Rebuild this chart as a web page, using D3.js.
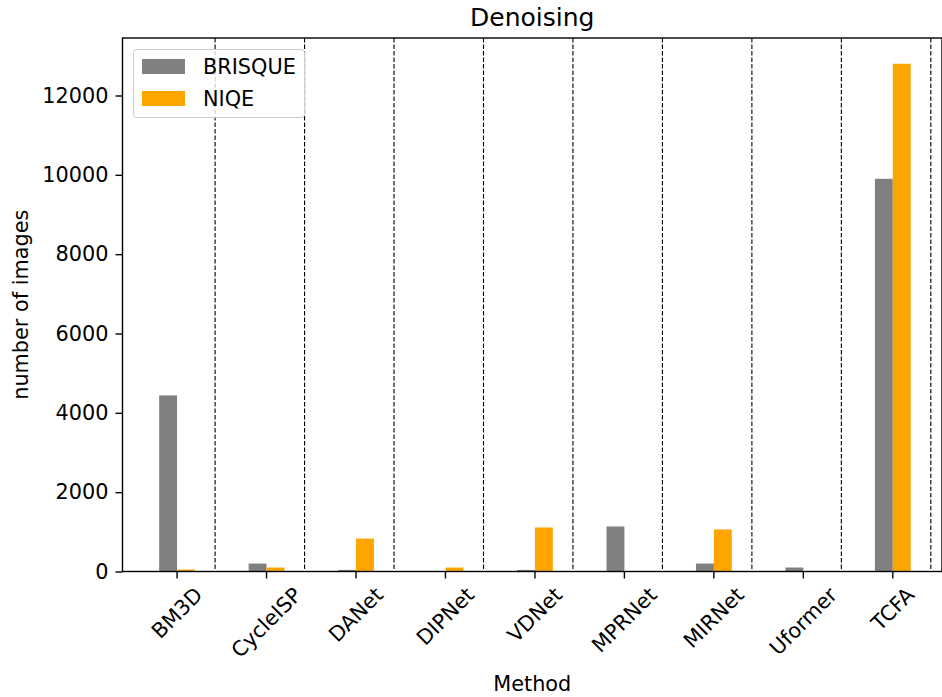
<!DOCTYPE html>
<html><head><meta charset="utf-8">
<script src="https://cdn.jsdelivr.net/npm/d3@7"></script>
<style>body{margin:0;background:#fff}svg{display:block}text{font-family:"DejaVu Sans",sans-serif;fill:#000}</style>
</head><body><svg id="c" width="942" height="697"></svg>
<script>
const categories = ["BM3D","CycleISP","DANet","DIPNet","VDNet","MPRNet","MIRNet","Uformer","TCFA"];
const brisque = [4440, 200, 40, 0, 40, 1135, 200, 100, 9900];
const niqe = [50, 100, 830, 100, 1110, 0, 1060, 0, 12800];
const seriesNames = ["BRISQUE","NIQE"];
const seriesColors = ["#808080","#ffa500"];
const yTicks = [0,2000,4000,6000,8000,10000,12000];

const FS = "20.8px";
const svg = d3.select("#c");
const L=122.5, R=942, T=38, B=571.5;
const x = d3.scaleLinear().domain([-0.61, 8.55]).range([L, R]);
const y = d3.scaleLinear().domain([0, 12000]).range([B, 95.5]);
const bw = 0.2;

// dividers
svg.append("g").selectAll("line").data(categories).join("line")
  .attr("x1", (d,i)=>x(i+0.425)).attr("x2",(d,i)=>x(i+0.425))
  .attr("y1", T).attr("y2", B)
  .attr("stroke","#000").attr("stroke-width",1.1).attr("stroke-dasharray","4.5,2");

const series = [brisque, niqe];
series.forEach((vals, s) => {
  svg.append("g").selectAll("rect").data(vals).join("rect")
    .attr("x", (d,i)=> x(i + (s===0 ? -bw : 0)))
    .attr("width", x(bw)-x(0))
    .attr("y", d=>y(d)).attr("height", d=>B-y(d))
    .attr("fill", seriesColors[s]);
});

// frame
svg.append("rect").attr("x",L).attr("y",T).attr("width",R-L).attr("height",B-T)
  .attr("fill","none").attr("stroke","#000").attr("stroke-width",1.4);

// y axis
const ya = svg.append("g").attr("transform",`translate(${L},0)`)
  .call(d3.axisLeft(y).tickValues(yTicks).tickSize(7).tickPadding(7).tickFormat(d3.format("d")));
ya.select(".domain").remove();
ya.selectAll("text").style("font-size",FS).style("font-family","DejaVu Sans");
ya.selectAll("line").attr("stroke-width",1.4);

// x axis
const xa = svg.append("g").attr("transform",`translate(0,${B})`);
categories.forEach((c,i)=>{
  xa.append("line").attr("x1",x(i)).attr("x2",x(i)).attr("y1",0).attr("y2",7).attr("stroke","#000").attr("stroke-width",1.4);
  const t = xa.append("text").text(c).style("font-size",FS).attr("text-anchor","middle").attr("dominant-baseline","central");
  const w = t.node().getComputedTextLength();
  const h = 15;
  const bb = (w + h) * Math.SQRT1_2;
  const cy = 14.5 + bb/2;
  t.attr("transform",`translate(${x(i)},${cy}) rotate(-45)`);
});

// title & labels
svg.append("text").attr("x",(L+R)/2).attr("y",26).attr("text-anchor","middle").style("font-size","25px").text("Denoising");
svg.append("text").attr("x",(L+R)/2).attr("y",691).attr("text-anchor","middle").style("font-size",FS).text("Method");
svg.append("text").attr("transform",`translate(28,${(T+B)/2}) rotate(-90)`).attr("text-anchor","middle").style("font-size",FS).text("number of images");

// legend
const lg = svg.append("g");
lg.append("rect").attr("x",133.5).attr("y",49.5).attr("width",171).attr("height",68).attr("rx",3)
  .attr("fill","#fff").attr("fill-opacity",0.8).attr("stroke","#ccc").attr("stroke-width",1);
seriesNames.forEach((n,k)=>{
  lg.append("rect").attr("x",142).attr("y",59+k*32).attr("width",43).attr("height",15).attr("fill",seriesColors[k]);
  lg.append("text").attr("x",203).attr("y",74+k*32).style("font-size",FS).text(n);
});
</script></body></html>
